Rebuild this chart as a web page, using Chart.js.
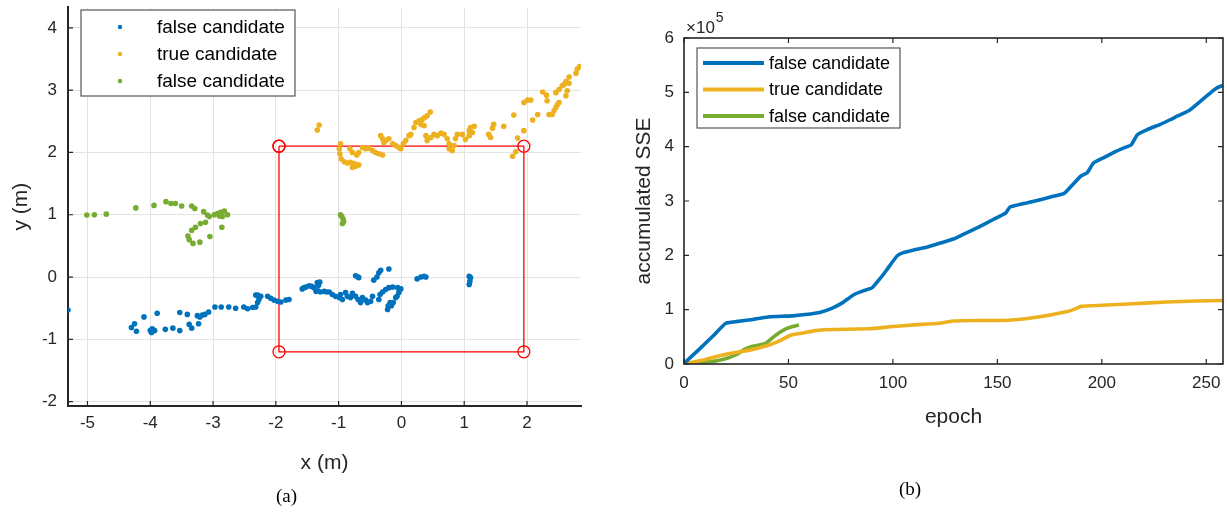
<!DOCTYPE html>
<html>
<head>
<meta charset="utf-8">
<script src="https://cdn.jsdelivr.net/npm/chart.js@4.4.1/dist/chart.umd.min.js"></script>
<style>
  html, body { margin: 0; padding: 0; background: #fff; }
  #wrap { position: relative; width: 1227px; height: 514px; overflow: hidden; }
  #left { position: absolute; left: 0; top: 0; }
  #right { position: absolute; left: 600px; top: 0; }
  .cap { position: absolute; font-family: "Liberation Serif", "Times New Roman", serif; font-size: 19px; color: #000; }
</style>
</head>
<body>
<div id="wrap">
  <canvas id="left" width="600" height="514" style="width:600px;height:514px"></canvas>
  <canvas id="right" width="627" height="514" style="width:627px;height:514px"></canvas>
  <div class="cap" style="left:276px; top:485px;">(a)</div>
  <div class="cap" style="left:899px; top:478px;">(b)</div>
</div>
<script>
// (a) positions of candidates, x / y in metres
const falseA = [
  [-5.31,-0.53],
  [-4.30,-0.81],[-4.25,-0.75],[-4.22,-0.87],[-4.10,-0.64],[-4.00,-0.86],[-3.98,-0.89],[-3.95,-0.85],
  [-3.97,-0.83],[-3.93,-0.86],[-3.89,-0.58],[-3.76,-0.84],[-3.64,-0.82],[-3.53,-0.86],[-3.53,-0.57],
  [-3.41,-0.60],[-3.38,-0.76],[-3.34,-0.82],[-3.25,-0.62],[-3.23,-0.75],[-3.21,-0.64],[-3.17,-0.61],
  [-3.13,-0.60],[-3.07,-0.56],[-2.97,-0.48],[-2.87,-0.48],[-2.75,-0.48],[-2.64,-0.50],[-2.51,-0.48],
  [-2.45,-0.51],[-2.37,-0.49],[-2.32,-0.48],[-2.29,-0.41],[-2.27,-0.36],[-2.32,-0.29],[-2.29,-0.29],
  [-2.24,-0.31],[-2.13,-0.31],[-2.08,-0.34],[-2.03,-0.37],[-1.97,-0.39],[-1.92,-0.40],[-1.84,-0.37],
  [-1.79,-0.36],
  [-1.58,-0.19],[-1.55,-0.17],[-1.52,-0.16],[-1.47,-0.14],[-1.43,-0.15],[-1.39,-0.17],[-1.34,-0.09],
  [-1.30,-0.08],[-1.32,-0.13],[-1.36,-0.23],[-1.33,-0.22],[-1.29,-0.24],[-1.23,-0.23],[-1.19,-0.24],
  [-1.15,-0.24],[-1.10,-0.28],[-1.05,-0.31],[-0.99,-0.33],[-0.94,-0.36],[-0.97,-0.28],[-0.89,-0.25],
  [-0.86,-0.31],[-0.81,-0.33],[-0.78,-0.26],[-0.73,-0.31],[-0.69,-0.36],[-0.65,-0.41],[-0.62,-0.33],
  [-0.57,-0.37],[-0.54,-0.41],[-0.49,-0.39],[-0.46,-0.31],[-0.44,-0.05],[-0.39,0.00],[-0.36,0.07],
  [-0.33,0.11],[-0.20,0.13],[-0.34,-0.28],[-0.36,-0.36],[-0.30,-0.24],[-0.25,-0.20],[-0.20,-0.17],
  [-0.14,-0.16],[-0.06,-0.17],[-0.01,-0.19],[-0.04,-0.25],[-0.09,-0.33],[-0.13,-0.41],[-0.16,-0.46],
  [-0.22,-0.52],[-0.21,-0.46],[-0.18,-0.41],[-0.07,-0.31],[-0.69,0.00],[-0.73,0.02],[-0.68,-0.01],
  [0.25,-0.03],[0.31,0.00],[0.36,0.01],[0.39,0.00],
  [1.08,0.01],[1.10,-0.01],[1.09,-0.07],[1.08,-0.12]
];
const trueC = [
  [-1.31,2.44],[-1.34,2.36],
  [-0.97,2.14],[-0.99,2.06],[-0.98,1.98],[-0.96,1.90],[-0.91,1.85],[-0.86,1.83],[-0.81,1.84],
  [-0.75,1.82],[-0.73,1.78],[-0.68,1.80],[-0.78,1.76],[-0.82,2.06],[-0.78,2.00],[-0.71,1.96],
  [-0.68,2.00],[-0.62,2.08],[-0.57,2.06],[-0.52,2.07],[-0.46,2.03],[-0.41,2.00],[-0.36,1.98],
  [-0.30,1.96],[-0.33,2.27],[-0.30,2.22],[-0.28,2.16],[-0.25,2.19],[-0.20,2.22],[-0.14,2.14],
  [-0.09,2.11],[-0.04,2.08],[-0.01,2.06],[0.03,2.14],[0.07,2.19],[0.12,2.27],[0.15,2.29],
  [0.20,2.40],[0.23,2.48],[0.28,2.51],[0.33,2.53],[0.37,2.56],[0.41,2.59],[0.46,2.65],[0.36,2.43],
  [0.31,2.45],[0.39,2.27],[0.41,2.19],[0.47,2.24],[0.52,2.29],[0.57,2.27],[0.63,2.31],[0.68,2.29],
  [0.73,2.22],[0.76,2.14],[0.76,2.06],[0.81,2.03],[0.84,2.11],[0.86,2.22],[0.89,2.29],[0.97,2.29],
  [1.02,2.21],[1.08,2.35],[1.10,2.40],[1.16,2.42],[1.13,2.32],[1.08,2.27],[1.39,2.29],[1.42,2.24],
  [1.45,2.39],[1.47,2.45],[1.63,2.42],[1.79,2.60],[1.77,1.94],[1.82,2.01],[1.85,2.23],[1.95,2.35],
  [1.95,2.80],[2.01,2.84],[2.06,2.84],[2.09,2.52],[2.17,2.61],[2.25,2.97],[2.31,2.92],[2.32,2.83],
  [2.35,2.61],[2.40,2.61],[2.43,2.67],[2.46,2.72],[2.48,2.76],[2.51,2.80],[2.46,2.96],[2.51,3.01],
  [2.56,3.07],[2.59,3.09],[2.62,3.14],[2.64,2.99],[2.67,3.11],[2.62,2.91],[2.67,3.21],[2.78,3.27],
  [2.80,3.34],[2.84,3.38]
];
const falseB = [
  [-5.01,0.995],[-4.89,1.00],[-4.70,1.01],[-4.23,1.11],[-3.94,1.15],[-3.75,1.21],[-3.67,1.18],
  [-3.60,1.18],[-3.50,1.14],[-3.34,1.14],[-3.29,1.10],[-3.15,1.05],[-3.09,0.995],[-3.06,0.97],
  [-2.98,1.00],[-2.93,1.02],[-2.88,1.04],[-2.82,1.06],[-2.77,1.00],[-2.85,0.97],[-2.90,0.98],
  [-3.12,0.88],[-3.20,0.86],[-3.28,0.80],[-3.34,0.75],[-3.40,0.66],[-3.38,0.60],[-3.32,0.54],
  [-3.21,0.56],[-3.05,0.65],[-2.86,0.80],
  [-0.97,1.00],[-0.95,0.97],[-0.93,0.93],[-0.92,0.89],[-0.94,0.86]
];
// search window corners
const rectX = [-1.95, 1.95, 1.95, -1.95, -1.95];
const rectY = [2.1, 2.1, -1.2, -1.2, 2.1];
const xTicksA = [-5, -4, -3, -2, -1, 0, 1, 2];
const yTicksA = [-2, -1, 0, 1, 2, 3, 4];

// (b) accumulated SSE per epoch
const sseFalseAEpoch = [0, 7, 14, 20, 27, 33, 41, 47, 52, 58, 65, 71, 76, 81, 86, 90, 94, 97, 102, 105, 110, 117, 123, 129, 135, 141, 148, 154, 156, 162, 167, 175, 182, 186, 190, 193, 196, 201, 206, 210, 214, 217, 222, 228, 233, 236, 242, 247, 252, 255, 258];
const sseFalseA      = [0.01, 0.26, 0.52, 0.75, 0.79, 0.82, 0.87, 0.88, 0.885, 0.91, 0.95, 1.03, 1.13, 1.27, 1.35, 1.40, 1.58, 1.73, 1.99, 2.05, 2.10, 2.16, 2.23, 2.30, 2.41, 2.52, 2.66, 2.78, 2.89, 2.95, 2.99, 3.07, 3.14, 3.30, 3.46, 3.52, 3.70, 3.80, 3.90, 3.97, 4.03, 4.22, 4.32, 4.41, 4.50, 4.56, 4.67, 4.83, 4.99, 5.08, 5.13];
const sseTrueEpoch = [0, 10, 19, 26, 32, 40, 46, 51, 57, 62, 67, 78, 89, 95, 100, 110, 122, 129, 140, 151, 160, 167, 175, 183, 187, 190, 200, 215, 231, 245, 258];
const sseTrue      = [0, 0.08, 0.17, 0.22, 0.26, 0.34, 0.43, 0.53, 0.57, 0.61, 0.63, 0.64, 0.65, 0.67, 0.69, 0.72, 0.75, 0.79, 0.80, 0.80, 0.82, 0.85, 0.90, 0.96, 1.01, 1.06, 1.08, 1.11, 1.14, 1.16, 1.17];
const sseFalseBEpoch = [0, 10, 17, 21, 25, 29, 32, 36, 39, 42, 45, 49, 52, 55];
const sseFalseB      = [0, 0.03, 0.07, 0.11, 0.17, 0.27, 0.32, 0.35, 0.38, 0.47, 0.56, 0.65, 0.69, 0.72];
const sseScale = 1e5;
const xTicksB = [0, 50, 100, 150, 200, 250];
const yTicksB = [0, 1, 2, 3, 4, 5, 6].map(v => v * sseScale);

const labels = ['false candidate', 'true candidate', 'false candidate'];
const colors = ['#0072BD', '#EDB120', '#77AC30'];
const axisColor = '#262626';
const fontFamily = '"Liberation Sans", Arial, Helvetica, sans-serif';

// matlab-like ticks pointing into the axes, optional full box
const inwardTicks = {
  id: 'inwardTicks',
  afterDatasetsDraw(chart, args, opts) {
    const {ctx, chartArea: a} = chart;
    const xs = chart.scales.x, ys = chart.scales.y;
    const len = opts.len;
    ctx.save();
    ctx.strokeStyle = axisColor;
    ctx.lineWidth = 1.2;
    ctx.beginPath();
    xs.ticks.forEach(t => {
      const px = xs.getPixelForValue(t.value);
      ctx.moveTo(px, a.bottom); ctx.lineTo(px, a.bottom - len);
      if (opts.box) { ctx.moveTo(px, a.top); ctx.lineTo(px, a.top + len); }
    });
    ys.ticks.forEach(t => {
      const py = ys.getPixelForValue(t.value);
      ctx.moveTo(a.left, py); ctx.lineTo(a.left + len, py);
      if (opts.box) { ctx.moveTo(a.right, py); ctx.lineTo(a.right - len, py); }
    });
    ctx.stroke();
    if (opts.box) {
      ctx.lineWidth = 1.6;
      ctx.strokeRect(a.left, a.top, a.right - a.left, a.bottom - a.top);
    }
    ctx.restore();
  }
};

// boxed legend inside the axes
const boxLegend = {
  id: 'boxLegend',
  afterDraw(chart, args, o) {
    const {ctx} = chart;
    ctx.save();
    ctx.fillStyle = '#fff';
    ctx.fillRect(o.x, o.y, o.w, o.h);
    ctx.strokeStyle = '#555';
    ctx.lineWidth = 1.2;
    ctx.strokeRect(o.x, o.y, o.w, o.h);
    ctx.font = o.font + 'px ' + fontFamily;
    ctx.textBaseline = 'middle';
    ctx.textAlign = 'left';
    o.items.forEach((i, k) => {
      const ds = chart.data.datasets[i];
      const cy = o.y + o.first + k * o.row;
      if (o.kind === 'dot') {
        ctx.fillStyle = ds.backgroundColor;
        ctx.beginPath();
        ctx.arc(o.sx, cy, 2.2, 0, Math.PI * 2);
        ctx.fill();
      } else {
        ctx.strokeStyle = ds.borderColor;
        ctx.lineWidth = 4;
        ctx.beginPath();
        ctx.moveTo(o.sx, cy); ctx.lineTo(o.sx + o.len, cy);
        ctx.stroke();
      }
      ctx.fillStyle = '#000';
      ctx.fillText(ds.label, o.tx, cy + 1);
    });
    ctx.restore();
  }
};

// x10^5 exponent above the y axis
const exponentLabel = {
  id: 'exponentLabel',
  afterDraw(chart) {
    const {ctx, chartArea: a} = chart;
    ctx.save();
    ctx.fillStyle = axisColor;
    ctx.textBaseline = 'alphabetic';
    ctx.font = '17px ' + fontFamily;
    ctx.fillText('\u00d710', a.left + 2, a.top - 5);
    const w = ctx.measureText('\u00d710').width;
    ctx.font = '14px ' + fontFamily;
    ctx.fillText('5', a.left + 3 + w, a.top - 16);
    ctx.restore();
  }
};

const tickFont = {family: fontFamily, size: 17};
const titleFont = {family: fontFamily, size: 21};

function fixedTicks(values) {
  return scale => { scale.ticks = values.map(v => ({value: v})); };
}
// fixed box sizes so the plot area lands where wanted
function fixX(h) {
  return s => { s.height = h; s.paddingLeft = 0; s.paddingRight = 0; };
}
function fixY(w) {
  return s => { s.width = w; s.paddingTop = 0; s.paddingBottom = 0; };
}

// (a) scatter of candidate positions
new Chart(document.getElementById('left'), {
  type: 'scatter',
  data: {
    datasets: [
      {label: labels[0], data: falseA.map(p => ({x: p[0], y: p[1]})), backgroundColor: colors[0]},
      {label: labels[1], data: trueC.map(p => ({x: p[0], y: p[1]})), backgroundColor: colors[1]},
      {label: labels[2], data: falseB.map(p => ({x: p[0], y: p[1]})), backgroundColor: colors[2]},
      {
        label: 'window', type: 'line',
        data: rectX.map((x, i) => ({x: x, y: rectY[i]})),
        borderColor: '#FF0000', borderWidth: 1.3, fill: false, tension: 0,
        pointRadius: 6, pointBorderColor: '#FF0000', pointBorderWidth: 1.3,
        pointBackgroundColor: 'rgba(0,0,0,0)'
      }
    ]
  },
  options: {
    responsive: false,
    animation: false,
    layout: {padding: {left: 0, top: 4, right: 19, bottom: 0}},
    elements: {point: {radius: 2.8, borderWidth: 0}},
    plugins: {
      legend: {display: false},
      tooltip: {enabled: false},
      inwardTicks: {len: 5, box: false},
      boxLegend: {x: 81, y: 10, w: 214, h: 86, first: 17, row: 27, sx: 120, tx: 157, font: 19, kind: 'dot', items: [0, 1, 2]}
    },
    scales: {
      x: {
        type: 'linear', min: -5.31, max: 2.86,
        afterBuildTicks: fixedTicks(xTicksA),
        afterFit: fixX(108),
        grid: {color: '#e3e3e3', drawTicks: false},
        border: {display: true, color: axisColor, width: 2},
        ticks: {font: tickFont, color: axisColor, padding: 7, maxRotation: 0},
        title: {display: true, text: 'x (m)', font: titleFont, color: axisColor, padding: {top: 0, bottom: 38}}
      },
      y: {
        type: 'linear', min: -2.07, max: 4.33,
        afterBuildTicks: fixedTicks(yTicksA),
        afterFit: fixY(68),
        grid: {color: '#e3e3e3', drawTicks: false},
        border: {display: true, color: axisColor, width: 2},
        ticks: {font: tickFont, color: axisColor, padding: 11},
        title: {display: true, text: 'y (m)', font: titleFont, color: axisColor, padding: {top: 9, bottom: 0}}
      }
    }
  },
  plugins: [inwardTicks, boxLegend]
});

// (b) accumulated SSE against epoch
function series(ep, vals) {
  return ep.map((e, i) => ({x: e, y: vals[i] * sseScale}));
}

new Chart(document.getElementById('right'), {
  type: 'line',
  data: {
    datasets: [
      {label: labels[0], data: series(sseFalseAEpoch, sseFalseA), borderColor: colors[0]},
      {label: labels[1], data: series(sseTrueEpoch, sseTrue), borderColor: colors[1]},
      {label: labels[2], data: series(sseFalseBEpoch, sseFalseB), borderColor: colors[2]}
    ]
  },
  options: {
    responsive: false,
    animation: false,
    layout: {padding: {left: 0, top: 38, right: 4, bottom: 0}},
    elements: {point: {radius: 0}, line: {borderWidth: 3.6, tension: 0.12, fill: false}},
    plugins: {
      legend: {display: false},
      tooltip: {enabled: false},
      inwardTicks: {len: 5, box: true},
      boxLegend: {x: 97, y: 48, w: 203, h: 80, first: 15, row: 26.5, sx: 103, len: 61, tx: 169, font: 18, kind: 'line', items: [0, 1, 2]}
    },
    scales: {
      x: {
        type: 'linear', min: 0, max: 258,
        afterBuildTicks: fixedTicks(xTicksB),
        afterFit: fixX(150),
        grid: {display: false, drawTicks: false},
        border: {display: false},
        ticks: {font: tickFont, color: axisColor, padding: 9, maxRotation: 0},
        title: {display: true, text: 'epoch', font: titleFont, color: axisColor, padding: {top: 0, bottom: 84}}
      },
      y: {
        type: 'linear', min: 0, max: 6 * sseScale,
        afterBuildTicks: fixedTicks(yTicksB),
        afterFit: fixY(84),
        grid: {display: false, drawTicks: false},
        border: {display: false},
        ticks: {font: tickFont, color: axisColor, padding: 10, callback: v => String(v / sseScale)},
        title: {display: true, text: 'accumulated SSE', font: titleFont, color: axisColor, padding: {top: 32, bottom: 0}}
      }
    }
  },
  plugins: [inwardTicks, boxLegend, exponentLabel]
});
</script>
</body>
</html>
